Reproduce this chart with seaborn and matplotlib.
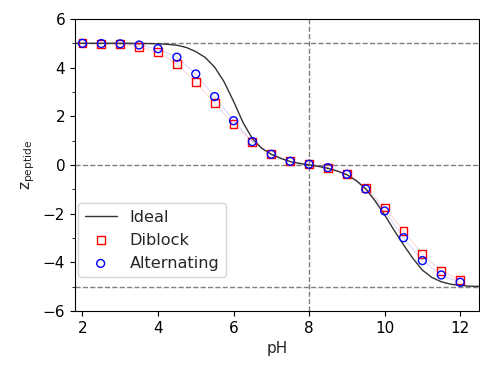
import numpy as np
import pandas as pd
import seaborn as sns
import matplotlib.pyplot as plt
from matplotlib.ticker import MultipleLocator

sns.set_style("ticks")
plt.rcParams['font.family'] = ['DejaVu Sans']
plt.rcParams['font.size'] = 11

# measured points
ph = [2.0, 2.5, 3.0, 3.5, 4.0, 4.5, 5.0, 5.5, 6.0, 6.5, 7.0, 7.5, 8.0, 8.5, 9.0, 9.5, 10.0, 10.5, 11.0, 11.5, 12.0]
z_diblock = [5.0, 4.98, 4.96, 4.86, 4.63, 4.14, 3.40, 2.54, 1.67, 0.96, 0.44, 0.15, 0.03, -0.11, -0.38, -0.93, -1.75, -2.71, -3.67, -4.36, -4.73]
z_alternating = [5.0, 4.99, 4.98, 4.93, 4.78, 4.43, 3.74, 2.81, 1.82, 0.96, 0.44, 0.15, 0.03, -0.11, -0.38, -0.99, -1.89, -2.99, -3.93, -4.52, -4.82]

# ideal curve
ph_ideal = [1.75, 2.0, 2.25, 2.5, 2.75, 3.0, 3.25, 3.5, 3.75, 4.0, 4.25, 4.5, 4.75, 5.0, 5.25, 5.5, 5.75,
            6.0, 6.25, 6.5, 6.75, 7.0, 7.25, 7.5, 7.75, 8.0, 8.25, 8.5, 8.75, 9.0, 9.25, 9.5, 9.75,
            10.0, 10.25, 10.5, 10.75, 11.0, 11.25, 11.5, 11.75, 12.0, 12.25, 12.5]
z_ideal = [5.0, 5.0, 5.0, 5.0, 5.0, 5.0, 5.0, 4.99, 4.99, 4.98, 4.96, 4.92, 4.83, 4.66, 4.42, 4.02, 3.42,
           2.62, 1.75, 1.08, 0.68, 0.44, 0.27, 0.14, 0.06, 0.0, -0.06, -0.14, -0.25, -0.40, -0.64, -0.98, -1.48,
           -2.05, -2.68, -3.28, -3.84, -4.32, -4.62, -4.8, -4.9, -4.95, -4.98, -4.99]

df = pd.DataFrame({'pH': ph, 'Diblock': z_diblock, 'Alternating': z_alternating})
ideal = pd.DataFrame({'pH': ph_ideal, 'z': z_ideal})

fig, ax = plt.subplots(figsize=(4.8, 3.65), dpi=100)
fig.subplots_adjust(left=0.156, right=0.998, top=0.948, bottom=0.148)

for y in [5, 0, -5]:
    ax.axhline(y, color='gray', ls='--', lw=1)
ax.axvline(8, color='gray', ls='--', lw=1)

sns.lineplot(data=df, x='pH', y='Diblock', color='red', alpha=0.2, lw=0.6, ax=ax)
sns.lineplot(data=df, x='pH', y='Alternating', color='blue', alpha=0.2, lw=0.6, ax=ax)
sns.lineplot(data=ideal, x='pH', y='z', color='#333333', lw=1, ax=ax, label='Ideal')
sns.scatterplot(data=df, x='pH', y='Diblock', marker='s', s=32, facecolors='none',
                edgecolor='red', linewidth=1, ax=ax, label='Diblock', zorder=3)
sns.scatterplot(data=df, x='pH', y='Alternating', marker='o', s=32, facecolors='none',
                edgecolor='blue', linewidth=1, ax=ax, label='Alternating', zorder=4)

ax.set_xlim(1.8, 12.5)
ax.set_ylim(-6, 6)
ax.set_xticks([2, 4, 6, 8, 10, 12])
ax.yaxis.set_major_locator(MultipleLocator(2))
ax.yaxis.set_minor_locator(MultipleLocator(1))
ax.set_xlabel('pH')
ax.set_ylabel(r'z$_\mathregular{peptide}$')
for s in ax.spines.values():
    s.set_color('black')
ax.tick_params(colors='black', which='both')
ax.legend(loc='lower left', bbox_to_anchor=(0.0, 0.105), borderaxespad=0.2, fontsize=11.6)

fig.savefig('out.png', dpi=100)
